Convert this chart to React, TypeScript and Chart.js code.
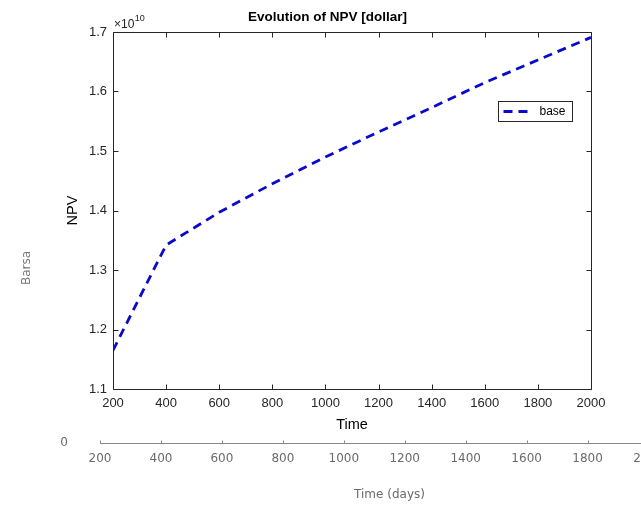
import React, { useEffect, useRef } from 'react';
import { Chart, registerables } from 'chart.js';

Chart.register(...registerables);

// ---- data ----
const timeDays = [200, 400, 600, 800, 1000, 1200, 1400, 1600, 1800, 2000];
const npvBase = [1.165e10, 1.342e10, 1.397e10, 1.445e10, 1.49e10, 1.532e10, 1.573e10, 1.615e10, 1.653e10, 1.691e10];
const xTickValues = [200, 400, 600, 800, 1000, 1200, 1400, 1600, 1800, 2000];
const yTickValues = [1.1e10, 1.2e10, 1.3e10, 1.4e10, 1.5e10, 1.6e10, 1.7e10];
const seriesLabel = 'base';
const chartTitle = 'Evolution of NPV [dollar]';
const xTitle = 'Time';
const yTitle = 'NPV';
const exponentText = '10';

// background (ghost) figure
const ghostXTickValues = [200, 400, 600, 800, 1000, 1200, 1400, 1600, 1800, 2000];
const ghostXTitle = 'Time (days)';
const ghostYTitle = 'Barsa';
const ghostYTickValues = [0];

const FONT = 'Arial, "Liberation Sans", Helvetica, sans-serif';
const GHOST_FONT = '"DejaVu Sans", Verdana, sans-serif';
const AX = '#262626';
const GHOST_TXT = '#6a6a6a';
const LINE_COLOR = '#0a0acc';
const LINE_DASH = [9, 6];

const matlabAxesPlugin = {
  id: 'matlabAxes',
  afterDraw(chart: any) {
    const { ctx, chartArea: a, scales } = chart;
    ctx.save();
    ctx.strokeStyle = AX;
    ctx.lineWidth = 1;
    const L = Math.round(a.left) + 0.5;
    const R = Math.round(a.right) + 0.5;
    const T = Math.round(a.top) + 0.5;
    const B = Math.round(a.bottom) + 0.5;
    ctx.beginPath();
    ctx.rect(L, T, R - L, B - T);
    ctx.stroke();
    const tl = 5;
    ctx.beginPath();
    for (const v of xTickValues) {
      const px = Math.round(scales.x.getPixelForValue(v)) + 0.5;
      ctx.moveTo(px, B);
      ctx.lineTo(px, B - tl);
      ctx.moveTo(px, T);
      ctx.lineTo(px, T + tl);
    }
    for (const v of yTickValues) {
      const py = Math.round(scales.y.getPixelForValue(v)) + 0.5;
      ctx.moveTo(L, py);
      ctx.lineTo(L + tl, py);
      ctx.moveTo(R, py);
      ctx.lineTo(R - tl, py);
    }
    ctx.stroke();

    // exponent label
    ctx.fillStyle = AX;
    ctx.textBaseline = 'alphabetic';
    ctx.textAlign = 'left';
    ctx.font = `12px ${FONT}`;
    const base = '\u00d710';
    ctx.fillText(base, a.left + 1, a.top - 4);
    const w = ctx.measureText(base).width;
    ctx.font = `9px ${FONT}`;
    ctx.fillText(exponentText, a.left + 1 + w + 0.5, a.top - 11);

    // legend
    const lw = 74;
    const lh = 20;
    const lx = Math.round(a.right - 93) + 0.5;
    const ly = Math.round(a.top + 69) + 0.5;
    ctx.fillStyle = '#ffffff';
    ctx.fillRect(lx, ly, lw, lh);
    ctx.strokeStyle = AX;
    ctx.lineWidth = 1;
    ctx.strokeRect(lx, ly, lw, lh);
    const ds = chart.data.datasets[0];
    ctx.strokeStyle = ds.borderColor;
    ctx.lineWidth = ds.borderWidth;
    ctx.setLineDash(ds.borderDash);
    ctx.beginPath();
    ctx.moveTo(lx + 5, ly + lh / 2);
    ctx.lineTo(lx + 29, ly + lh / 2);
    ctx.stroke();
    ctx.setLineDash([]);
    ctx.fillStyle = '#000';
    ctx.font = `12px ${FONT}`;
    ctx.textBaseline = 'middle';
    ctx.fillText(ds.label, lx + 41, ly + lh / 2 + 0.5);
    ctx.restore();
  },
};

const ghostTicksPlugin = {
  id: 'ghostTicks',
  afterDraw(chart: any) {
    const { ctx, chartArea: a, scales } = chart;
    ctx.save();
    ctx.strokeStyle = '#8a8a8a';
    ctx.lineWidth = 1;
    const B = Math.round(a.bottom) + 0.5;
    ctx.beginPath();
    for (const v of ghostXTickValues) {
      const px = Math.round(scales.x.getPixelForValue(v)) + 0.5;
      ctx.moveTo(px, B);
      ctx.lineTo(px, B - 3);
    }
    ctx.stroke();
    ctx.restore();
  },
};

export default function App() {
  const mainRef = useRef<HTMLCanvasElement | null>(null);
  const ghostRef = useRef<HTMLCanvasElement | null>(null);

  useEffect(() => {
    const ghost = new Chart(ghostRef.current as HTMLCanvasElement, {
      type: 'line',
      data: { datasets: [] },
      plugins: [ghostTicksPlugin],
      options: {
        animation: false,
        responsive: false,
        devicePixelRatio: 1,
        layout: { padding: { left: 20, right: 41, top: 93, bottom: 0 } },
        plugins: { legend: { display: false }, tooltip: { enabled: false }, title: { display: false } },
        scales: {
          x: {
            type: 'linear',
            min: 200,
            max: 2100,
            afterBuildTicks: (s: any) => {
              s.ticks = ghostXTickValues.map((v) => ({ value: v }));
            },
            afterFit: (s: any) => {
              s.height = 65;
            },
            grid: { display: false, drawTicks: false },
            border: { display: true, color: '#8a8a8a', width: 1 },
            ticks: {
              color: GHOST_TXT,
              font: { family: GHOST_FONT, size: 12 },
              padding: 9,
              maxRotation: 0,
              autoSkip: false,
              callback: (v: any) => String(v),
            },
            title: { display: true, text: ghostXTitle, color: GHOST_TXT, font: { family: GHOST_FONT, size: 12 }, padding: { top: 0, bottom: 6 } },
          },
          y: {
            type: 'linear',
            min: 0,
            max: 1,
            afterBuildTicks: (s: any) => {
              s.ticks = ghostYTickValues.map((v) => ({ value: v }));
            },
            afterFit: (s: any) => {
              s.width = 80;
            },
            grid: { display: false, drawTicks: false },
            border: { display: false },
            ticks: { color: GHOST_TXT, font: { family: GHOST_FONT, size: 12 }, padding: 32, callback: (v: any) => String(v) },
            title: { display: true, text: ghostYTitle, color: '#7a7a7a', font: { family: GHOST_FONT, size: 12 }, padding: 0 },
          },
        },
      },
    });

    const main = new Chart(mainRef.current as HTMLCanvasElement, {
      type: 'line',
      data: {
        datasets: [
          {
            label: seriesLabel,
            data: timeDays.map((t, i) => ({ x: t, y: npvBase[i] })),
            borderColor: LINE_COLOR,
            borderWidth: 2.8,
            borderDash: LINE_DASH,
            pointRadius: 0,
            tension: 0,
            fill: false,
          },
        ],
      },
      plugins: [matlabAxesPlugin],
      options: {
        animation: false,
        responsive: false,
        devicePixelRatio: 1,
        layout: { padding: { left: 64, right: 50, top: 0, bottom: 73 } },
        plugins: {
          legend: { display: false },
          tooltip: { enabled: false },
          title: {
            display: true,
            text: chartTitle,
            color: '#000',
            font: { family: FONT, size: 13.5, weight: 'bold' },
            padding: { top: 9, bottom: 6.8 },
          },
        },
        scales: {
          x: {
            type: 'linear',
            min: 200,
            max: 2000,
            afterBuildTicks: (s: any) => {
              s.ticks = xTickValues.map((v) => ({ value: v }));
            },
            afterFit: (s: any) => {
              s.height = 46;
            },
            grid: { display: false, drawTicks: false },
            border: { display: false },
            ticks: {
              color: AX,
              font: { family: FONT, size: 13 },
              padding: 7,
              maxRotation: 0,
              autoSkip: false,
              callback: (v: any) => String(v),
            },
            title: { display: true, text: xTitle, color: '#000', font: { family: FONT, size: 14.5 }, padding: { top: 0, bottom: 1 } },
          },
          y: {
            type: 'linear',
            min: 1.1e10,
            max: 1.7e10,
            afterBuildTicks: (s: any) => {
              s.ticks = yTickValues.map((v) => ({ value: v }));
            },
            afterFit: (s: any) => {
              s.width = 49;
            },
            grid: { display: false, drawTicks: false },
            border: { display: false },
            ticks: {
              color: AX,
              font: { family: FONT, size: 13 },
              padding: 6,
              callback: (v: any) => (Number(v) / 1e10).toFixed(1),
            },
            title: { display: true, text: yTitle, color: '#000', font: { family: FONT, size: 14.5 }, padding: 0 },
          },
        },
      },
    });

    return () => {
      main.destroy();
      ghost.destroy();
    };
  }, []);

  return (
    <div
      style={{
        position: 'fixed',
        left: 0,
        top: 0,
        width: 641,
        height: 508,
        overflow: 'hidden',
        background: '#ffffff',
      }}
    >
      <canvas
        ref={ghostRef}
        width={720}
        height={508}
        style={{ position: 'absolute', left: 0, top: 0, width: 720, height: 508, filter: 'blur(0.6px)' }}
      />
      <canvas
        ref={mainRef}
        width={641}
        height={508}
        style={{ position: 'absolute', left: 0, top: 0, width: 641, height: 508 }}
      />
    </div>
  );
}
